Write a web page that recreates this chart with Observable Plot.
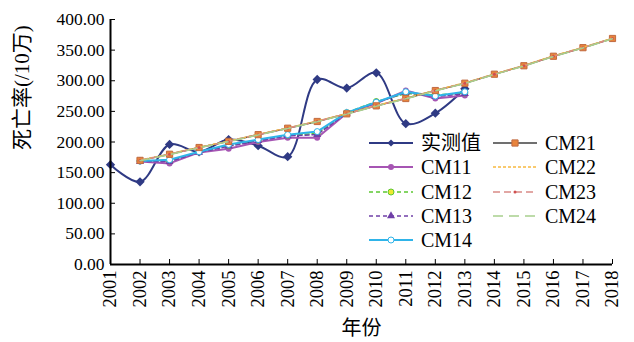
<!DOCTYPE html>
<html><head><meta charset="utf-8">
<script src="https://cdn.jsdelivr.net/npm/d3@7"></script>
<script src="https://cdn.jsdelivr.net/npm/@observablehq/plot@0.6"></script>
<style>
body{margin:0;background:#fff}
#wrap{position:relative;width:634px;height:342px;background:#fff}
#wrap svg text{font-family:"Times New Roman","Liberation Serif","DejaVu Serif","Noto Sans CJK SC",serif}
#legend{position:absolute;left:0;top:0;pointer-events:none}
</style></head><body><div id="wrap"></div>
<script>
// ---- data ----
const tickYears = [2001,2002,2003,2004,2005,2006,2007,2008,2009,2010,2011,2012,2013,2014,2015,2016,2017,2018];
const yTicks = [0,50,100,150,200,250,300,350,400];
const yearsObs = [2001,2002,2003,2004,2005,2006,2007,2008,2009,2010,2011,2012,2013];
const observed = [163,135,196,184,204,194,176,302,288,313,230,247,287];
const yearsCM1 = [2002,2003,2004,2005,2006,2007,2008,2009,2010,2011,2012,2013];
const cm11 = [168,165,183,189,200,207,207,247,263,284,271,276];
const cm12 = [169,169,184,194,203,211,214,248,266,279,277,280];
const cm13 = [168,168,183,193,202,210,212,247,264,281,274,279];
const cm14 = [169,171,184,196,204,212,217,248,265,282,275,282];
const yearsCM2 = [2002,2003,2004,2005,2006,2007,2008,2009,2010,2011,2012,2013,2014,2015,2016,2017,2018];
const cm21 = [170,180,191,201,212,222.5,233.5,246,259,271,284,296,310.7,324.5,340,354,369];
const cm22 = [170.5,180.5,191.5,201.5,212.5,223,234,246.5,259.5,271.5,284.5,296.5,311,325,340.5,354.5,369.5];
const cm23 = [170,180,191,201,212,222.5,233.5,246,259,271,284,296,310.7,324.5,340,354,369];
const cm24 = [169.5,179.5,190.5,200.5,211.5,222,233,245.5,258.5,270.5,283.5,295.5,310.2,324,339.5,353.5,368.5];
const xTitle = "年份";
const yTitle = "死亡率(/10万)";

const rows = (ys, vs) => ys.map((y,i)=>({year:y, value:vs[i]}));

const S = {
  obs:  {name:"实测值", color:"#2f3a84", width:2, dash:null, symbol:"diamond2", fill:"#2f3a84", stroke:"none", r:4.2},
  cm11: {name:"CM11", color:"#a655b3", width:2, dash:null, symbol:"circle", fill:"#a655b3", stroke:"none", r:3},
  cm12: {name:"CM12", color:"#5cc832", width:1.5, dash:"4,3", symbol:"circle", fill:"#eee830", stroke:"#5cc832", r:3},
  cm13: {name:"CM13", color:"#7040a8", width:1.5, dash:"4,3", symbol:"triangle", fill:"#7040a8", stroke:"none", r:3},
  cm14: {name:"CM14", color:"#2fb4e9", width:2, dash:null, symbol:"circle", fill:"#fff", stroke:"#2fb4e9", r:3},
  cm21: {name:"CM21", color:"#404040", width:1.5, dash:null, symbol:"square", fill:"#e8843c", stroke:"#c06a40", r:3.5},
  cm22: {name:"CM22", color:"#f7b940", width:1.5, dash:"3,2", symbol:null},
  cm23: {name:"CM23", color:"#d98a86", width:1.5, dash:"7,4", symbol:"circle", fill:"#d05050", stroke:"none", r:1.5},
  cm24: {name:"CM24", color:"#a8d08d", width:1.5, dash:"10,6", symbol:null}
};

function lineMarks(data, s, curve) {
  const m = [Plot.line(data, {x:"year", y:"value", stroke:s.color, strokeWidth:s.width, strokeDasharray:s.dash, curve: curve || "linear"})];
  if (s.symbol) m.push(Plot.dot(data, {x:"year", y:"value", symbol:s.symbol, r:s.r, fill:s.fill, stroke:s.stroke, strokeWidth:1}));
  return m;
}

const font = '"Times New Roman","Liberation Serif","DejaVu Serif","Noto Sans CJK SC",serif';
const chart = Plot.plot({
  width:634, height:342,
  marginLeft:110, marginRight:22, marginTop:19, marginBottom:78,
  style:{fontFamily:font, fontSize:"18px", color:"#000", background:"#fff", overflow:"visible"},
  x:{domain:[2001,2018]},
  y:{domain:[0,400]},
  marks:[
    Plot.axisY({ticks:yTicks, tickFormat:d3.format(".2f"), tickSize:0, tickPadding:6, fontSize:17.5, label:null}),
    Plot.axisY({ticks:yTicks, tickFormat:()=>"", tickSize:-5, label:null}),
    Plot.axisX({ticks:tickYears, tickFormat:d=>String(d), tickSize:0, tickPadding:6, tickRotate:-90, fontSize:18.5, label:null}),
    Plot.axisX({ticks:tickYears, tickFormat:()=>"", tickSize:-5, label:null}),
    Plot.text([yTitle], {frameAnchor:"left", rotate:-90, dx:-88, dy:8, fontSize:21, fill:"#000"}),
    Plot.text([xTitle], {frameAnchor:"bottom", dy:70, fontSize:20, fill:"#000"}),
    ...lineMarks(rows(yearsObs, observed), S.obs, "catmull-rom"),
    ...lineMarks(rows(yearsCM1, cm11), S.cm11),
    ...lineMarks(rows(yearsCM1, cm12), S.cm12),
    ...lineMarks(rows(yearsCM1, cm13), S.cm13),
    ...lineMarks(rows(yearsCM1, cm14), S.cm14),
    ...lineMarks(rows(yearsCM2, cm21), S.cm21),
    ...lineMarks(rows(yearsCM2, cm22), S.cm22),
    ...lineMarks(rows(yearsCM2, cm23), S.cm23),
    ...lineMarks(rows(yearsCM2, cm24), S.cm24),
    Plot.ruleY([0], {stroke:"#000", strokeWidth:2}),
    Plot.ruleX([2001], {stroke:"#000", strokeWidth:2})
  ]
});
const wrap = document.getElementById("wrap");
wrap.appendChild(chart);

// ---- legend (SVG overlay) ----
const leg = d3.select(wrap).append("svg").attr("id","legend").attr("width",634).attr("height",342);
const entries = [
  {s:S.obs, x:369, y:143}, {s:S.cm11, x:369, y:167}, {s:S.cm12, x:369, y:192}, {s:S.cm13, x:369, y:216}, {s:S.cm14, x:369, y:240},
  {s:S.cm21, x:493, y:143}, {s:S.cm22, x:493, y:167}, {s:S.cm23, x:493, y:192}, {s:S.cm24, x:493, y:216}
];
entries.forEach(({s,x,y})=>{
  const g = leg.append("g").attr("transform",`translate(${x},${y})`);
  g.append("line").attr("x1",0).attr("x2",44).attr("y1",0).attr("y2",0)
    .attr("stroke",s.color).attr("stroke-width",s.width).attr("stroke-dasharray",s.dash);
  if (s.symbol) {
    const sym = {diamond2:d3.symbolDiamond2, circle:d3.symbolCircle, triangle:d3.symbolTriangle, square:d3.symbolSquare}[s.symbol];
    const rr = s.symbol === "diamond2" ? 3.2 : s.r;
    g.append("path").attr("transform","translate(22,0)")
      .attr("d", d3.symbol(sym, Math.PI*rr*rr)())
      .attr("fill", s.fill).attr("stroke", s.stroke).attr("stroke-width",1);
  }
  g.append("text").attr("x",52).attr("y",0).attr("dy","0.35em")
    .attr("font-size",20).attr("fill","#000").text(s.name);
});
</script></body></html>
